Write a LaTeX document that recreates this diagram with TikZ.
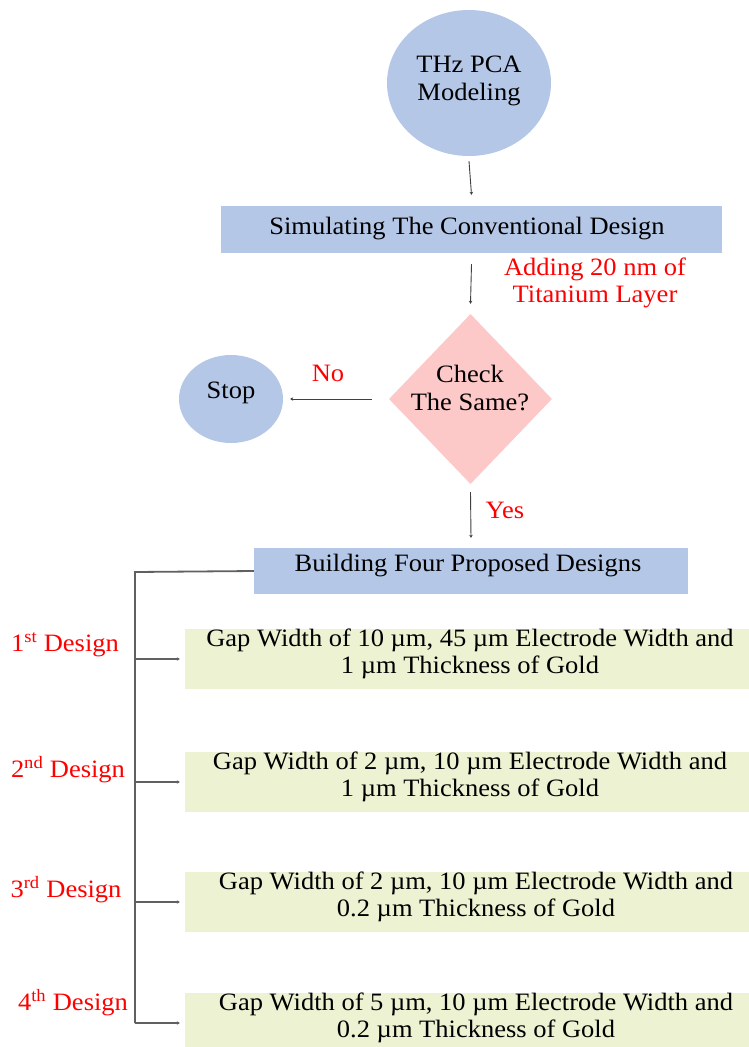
\documentclass[tikz,border=0pt]{standalone}
\usepackage{fontspec}
\setmainfont{Liberation Serif}
\newfontfamily\chartfont[FakeStretch=1.06]{Liberation Serif}
\usetikzlibrary{shapes.geometric,arrows.meta}

\definecolor{boxblue}{RGB}{180,199,231}
\definecolor{checkpink}{RGB}{252,200,200}
\definecolor{designgreen}{RGB}{236,242,210}
\definecolor{notered}{RGB}{255,0,0}
\definecolor{linegray}{RGB}{64,64,64}
\definecolor{bracketgray}{RGB}{96,96,96}

\tikzset{
  txt/.style={font=\chartfont\fontsize{25}{27.5}\selectfont, text=black, align=center, inner sep=0pt},
  redtxt/.style={font=\chartfont\fontsize{25}{27.5}\selectfont, text=notered, align=center, inner sep=0pt},
  terminal/.style={ellipse, fill=boxblue, inner sep=0pt},
  bluebox/.style={rectangle, fill=boxblue, inner sep=0pt},
  greenbox/.style={rectangle, fill=designgreen, inner sep=0pt},
  decision/.style={diamond, fill=checkpink, inner sep=0pt},
  flow/.style={draw=linegray, line width=0.9pt, -{Stealth[length=3pt,width=3.5pt]}},
  bracket/.style={draw=bracketgray, line width=1.8pt},
  branch/.style={draw=bracketgray, line width=1.2pt, -{Stealth[length=3pt,width=3.5pt]}}
}

\begin{document}
\begin{tikzpicture}[x=1pt,y=-1pt]
  \clip (0,0) rectangle (749,1047);
  \fill[white] (0,0) rectangle (749,1047);

  % start
  \node[terminal, minimum width=164pt, minimum height=146pt] (pca) at (469,83) {};
  \node[txt] (pcatxt) at (469,81) {THz PCA\\Modeling};

  % conventional design
  \node[bluebox, minimum width=501pt, minimum height=47pt] (sim) at (471.5,229.5) {};
  \node[txt] (simtxt) at (467,229) {Simulating The Conventional Design};

  % titanium layer check
  \node[decision, minimum width=163pt, minimum height=170pt] (check) at (470.5,399) {};
  \node[txt] (checktxt) at (470,388) {Check\\The Same?};
  \node[terminal, minimum width=104pt, minimum height=88pt] (stop) at (231,399) {};
  \node[txt] (stoptxt) at (231,393) {Stop};

  \node[redtxt] (titan) at (595,283) {Adding 20 nm of\\Titanium Layer};
  \node[redtxt] (nolbl) at (328,373) {No};
  \node[redtxt] (yeslbl) at (505,510) {Yes};

  % proposed designs
  \node[bluebox, minimum width=434pt, minimum height=46pt] (build) at (471,571) {};
  \node[txt] (buildtxt) at (468,566) {Building Four Proposed Designs};

  \node[greenbox, minimum width=570pt, minimum height=60pt] (d1) at (470,659) {};
  \node[greenbox, minimum width=570pt, minimum height=60pt] (d2) at (470,782) {};
  \node[greenbox, minimum width=570pt, minimum height=60pt] (d3) at (470,902) {};
  \node[greenbox, minimum width=570pt, minimum height=60pt] (d4) at (470,1023) {};

  \node[txt] (d1txt) at (470,654) {Gap Width of 10 µm, 45 µm Electrode Width and\\1 µm Thickness of Gold};
  \node[txt] (d2txt) at (470,777) {Gap Width of 2 µm, 10 µm Electrode Width and\\1 µm Thickness of Gold};
  \node[txt] (d3txt) at (476,897) {Gap Width of 2 µm, 10 µm Electrode Width and\\0.2 µm Thickness of Gold};
  \node[txt] (d4txt) at (476,1018) {Gap Width of 5 µm, 10 µm Electrode Width and\\0.2 µm Thickness of Gold};

  \node[redtxt] (l1) at (65,645) {1\textsuperscript{st} Design};
  \node[redtxt] (l2) at (68,770) {2\textsuperscript{nd} Design};
  \node[redtxt] (l3) at (66,890) {3\textsuperscript{rd} Design};
  \node[redtxt] (l4) at (73,1003) {4\textsuperscript{th} Design};

  % connectors
  \draw[flow] ([yshift=-5pt]pca.south) -- ([yshift=11pt]sim.north);
  \draw[flow] ([yshift=-11pt]sim.south) -- ([yshift=10pt]check.north);
  \draw[flow] ([xshift=-17pt]check.west) -- ([xshift=7pt]stop.east);
  \draw[flow] ([yshift=-8pt]check.south) -- ([yshift=10pt]build.north);

  \coordinate (corner) at (135,572);
  \coordinate (b1) at (135,659);
  \coordinate (b2) at (135,782);
  \coordinate (b3) at (135,902);
  \coordinate (b4) at (135,1023);
  \draw[bracket] (build.west) -- (corner) -- (b4);
  \draw[branch] (b1) -- ([xshift=-5pt]d1.west |- b1);
  \draw[branch] (b2) -- ([xshift=-5pt]d2.west |- b2);
  \draw[branch] (b3) -- ([xshift=-5pt]d3.west |- b3);
  \draw[branch] (b4) -- ([xshift=-5pt]d4.west |- b4);
\end{tikzpicture}
\end{document}
